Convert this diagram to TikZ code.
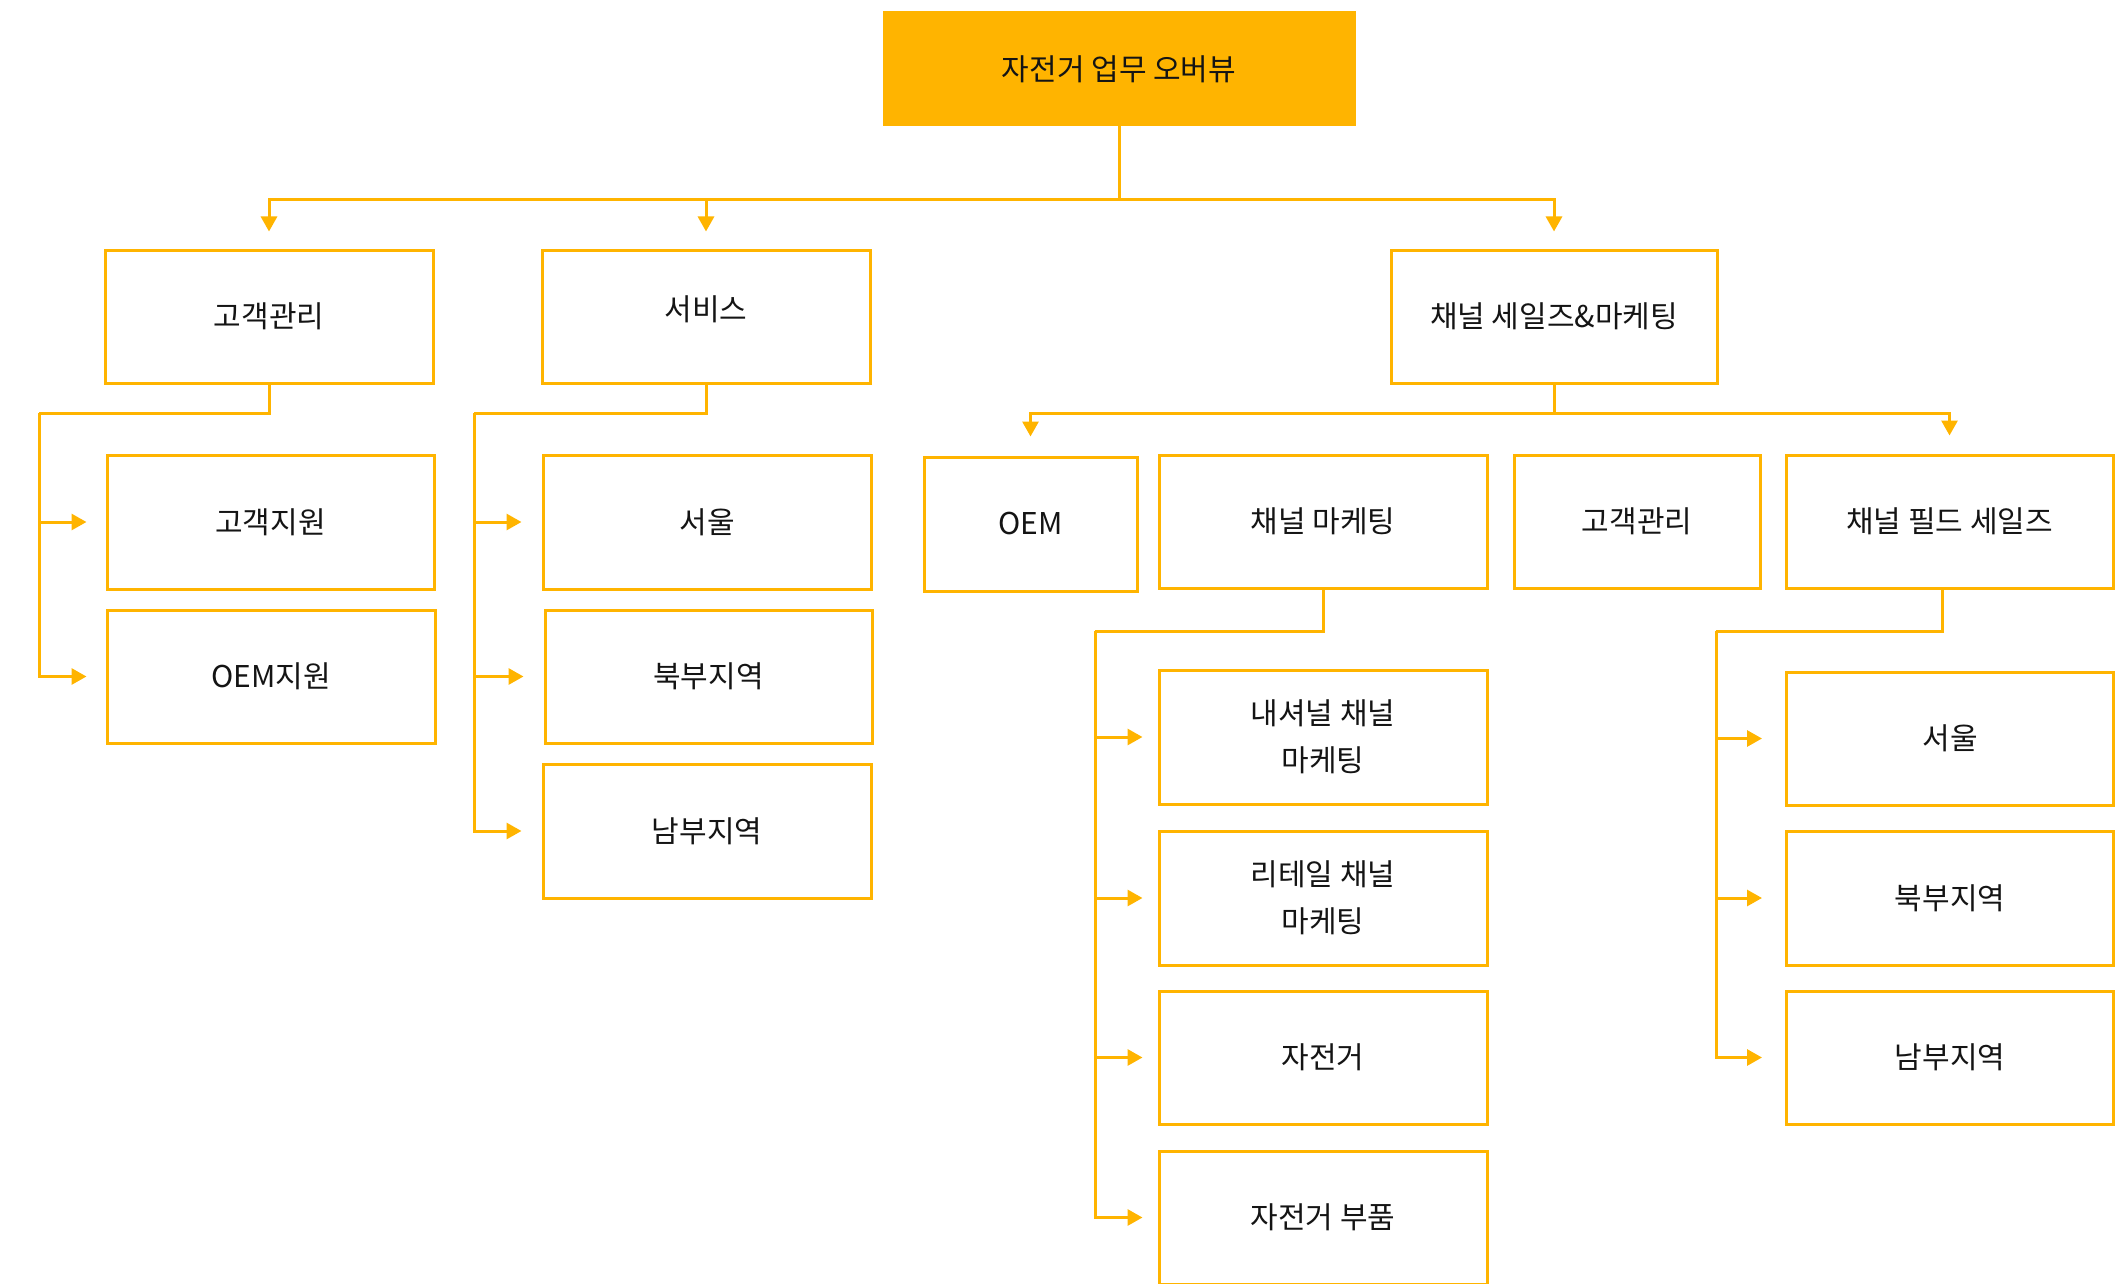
\documentclass[tikz,border=0pt]{standalone}
\usepackage{fontspec}
\setmainfont{Noto Sans CJK KR}
\usetikzlibrary{arrows.meta}
\definecolor{amber}{RGB}{255,180,0}
\definecolor{ink}{RGB}{20,20,20}
\tikzset{
  box/.style={draw=amber, line width=3pt, inner sep=0pt, text=ink, align=center,
    font=\fontsize{30}{47}\selectfont},
  topbox/.style={box, fill=amber},
  conn/.style={draw=amber, line width=3pt},
  arr/.style={conn, -{Triangle[length=15pt,width=16pt]}},
}
\begin{document}
\begin{tikzpicture}[x=1pt,y=-1pt]
\useasboundingbox (0,0) rectangle (2115,1284);
% nodes
\node[topbox, minimum width=470pt, minimum height=112pt] (top) at (1119,69) {자전거 업무 오버뷰};
\node[box, minimum width=328pt, minimum height=133pt] (A) at (269,316.5) {고객관리};
\node[box, minimum width=328pt, minimum height=133pt] (B) at (706,316.5) {\raisebox{7pt}[\height][\depth]{서비스}};
\node[box, minimum width=326pt, minimum height=133pt] (C) at (1554,316.5) {채널 세일즈\&마케팅};

\node[box, minimum width=327pt, minimum height=134pt] (A1) at (270.5,522) {고객지원};
\node[box, minimum width=328pt, minimum height=133pt] (A2) at (271,676.5) {OEM지원};

\node[box, minimum width=328pt, minimum height=134pt] (B1) at (707,522) {서울};
\node[box, minimum width=327pt, minimum height=133pt] (B2) at (708.5,676.5) {북부지역};
\node[box, minimum width=328pt, minimum height=134pt] (B3) at (707,831) {남부지역};

\node[box, minimum width=213pt, minimum height=134pt] (C1) at (1030.5,524) {OEM};
\node[box, minimum width=328pt, minimum height=133pt] (C2) at (1323,521.5) {채널 마케팅};
\node[box, minimum width=246pt, minimum height=133pt] (C3) at (1637,521.5) {고객관리};
\node[box, minimum width=327pt, minimum height=133pt] (C4) at (1949.5,521.5) {채널 필드 세일즈};

\node[box, minimum width=328pt, minimum height=134pt] (C21) at (1323,737) {내셔널 채널\\마케팅};
\node[box, minimum width=328pt, minimum height=134pt] (C22) at (1323,898) {리테일 채널\\마케팅};
\node[box, minimum width=328pt, minimum height=133pt] (C23) at (1323,1057.5) {자전거};
\node[box, minimum width=328pt, minimum height=133pt] (C24) at (1323,1217.5) {자전거 부품};

\node[box, minimum width=327pt, minimum height=133pt] (C41) at (1950,738.5) {서울};
\node[box, minimum width=327pt, minimum height=134pt] (C42) at (1950,898) {북부지역};
\node[box, minimum width=327pt, minimum height=133pt] (C43) at (1950,1057.5) {남부지역};

% junctions
\coordinate (j0) at (top.south |- 0,200);
\coordinate (sA) at (39,413);
\coordinate (sB) at (474,413);
\coordinate (jC) at (C.south |- 0,413);
\coordinate (sC2) at (1095,631);
\coordinate (sC4) at (1716,631);

% top level
\draw[conn] (top.south) -- (j0);
\draw[arr, shorten >=17pt] (j0) -| (A.north);
\draw[arr, shorten >=17pt] (j0) -| (B.north);
\draw[arr, shorten >=17pt] (j0) -| (C.north);

% A
\draw[conn] (A.south) |- (sA);
\draw[arr, shorten >=19pt] (sA) |- (A1.west);
\draw[arr, shorten >=19pt] (sA) |- (A2.west);

% B
\draw[conn] (B.south) |- (sB);
\draw[arr, shorten >=20pt] (sB) |- (B1.west);
\draw[arr, shorten >=20pt] (sB) |- (B2.west);
\draw[arr, shorten >=20pt] (sB) |- (B3.west);

% C
\draw[conn] (C.south) -- (jC);
\draw[arr, shorten >=19pt] (jC) -| (C1.north);
\draw[arr, shorten >=18pt] (jC) -| (C4.north);

% C2
\draw[conn] (C2.south) |- (sC2);
\draw[arr, shorten >=15pt] (sC2) |- (C21.west);
\draw[arr, shorten >=15pt] (sC2) |- (C22.west);
\draw[arr, shorten >=15pt] (sC2) |- (C23.west);
\draw[arr, shorten >=15pt] (sC2) |- (C24.west);

% C4
\draw[conn] ([xshift=-7.5pt]C4.south) |- (sC4);
\draw[arr, shorten >=23pt] (sC4) |- (C41.west);
\draw[arr, shorten >=23pt] (sC4) |- (C42.west);
\draw[arr, shorten >=23pt] (sC4) |- (C43.west);
\end{tikzpicture}
\end{document}
